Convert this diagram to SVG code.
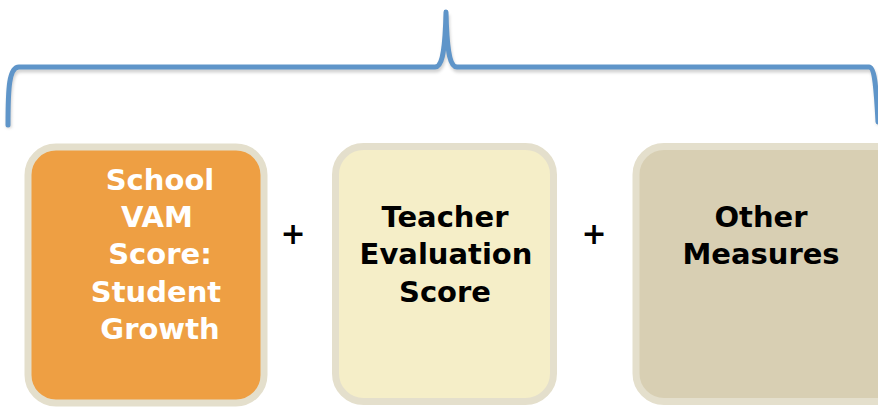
<svg xmlns="http://www.w3.org/2000/svg" width="878" height="407" viewBox="0 0 878 407">
<defs>
<style>
.box{stroke:#e4dfcc;stroke-width:7}
.t{font-family:"DejaVu Sans","Liberation Sans",sans-serif;font-weight:bold;font-size:29px;text-anchor:middle}
.p{font-family:"DejaVu Sans","Liberation Sans",sans-serif;font-weight:bold;font-size:30px;text-anchor:middle;fill:#000}
.w{fill:#ffffff}
.k{fill:#000000}
.brace{fill:none;stroke:#5f95c9;stroke-width:5;stroke-linecap:round;stroke-linejoin:round}
.shadow{fill:none;stroke:#000;stroke-opacity:0.18;stroke-width:5}
</style>
<filter id="blur" x="-5%" y="-50%" width="110%" height="200%"><feGaussianBlur stdDeviation="1.5"/></filter>
</defs>
<rect width="878" height="407" fill="#ffffff"/>
<g id="connectors">
<path class="shadow" filter="url(#blur)" d="M9,128 C9,90 10,70 20,70 L436,70 C442,70 446,60 447,15 C448,60 452,70 458,70 L870,70 C875,70 877,85 879,125"/>
<path class="brace" d="M8,125 C8,88 9,67 19,67 L435,67 C441,67 445,57 446,12 C447,57 451,67 457,67 L869,67 C874,67 876,82 878,122"/>
</g>
<g id="node-vam">
<rect class="box" x="28" y="147" width="236" height="256" rx="28" fill="#ee9f43"/>
<text class="t w" x="160" y="190">School</text>
<text class="t w" x="157" y="227">VAM</text>
<text class="t w" x="160" y="264">Score:</text>
<text class="t w" x="156" y="302">Student</text>
<text class="t w" x="160" y="339">Growth</text>
</g>
<g id="plus-1"><text class="p" x="293" y="244">+</text></g>
<g id="node-teacher">
<rect class="box" x="335.5" y="146.5" width="218" height="255" rx="28" fill="#f5eec8"/>
<text class="t k" x="445" y="227">Teacher</text>
<text class="t k" x="446" y="264">Evaluation</text>
<text class="t k" x="445" y="302">Score</text>
</g>
<g id="plus-2"><text class="p" x="594" y="244">+</text></g>
<g id="node-other">
<rect class="box" x="636" y="146.5" width="270" height="255" rx="28" fill="#d8cfb3"/>
<text class="t k" x="761" y="227">Other</text>
<text class="t k" x="761" y="264">Measures</text>
</g>
</svg>
